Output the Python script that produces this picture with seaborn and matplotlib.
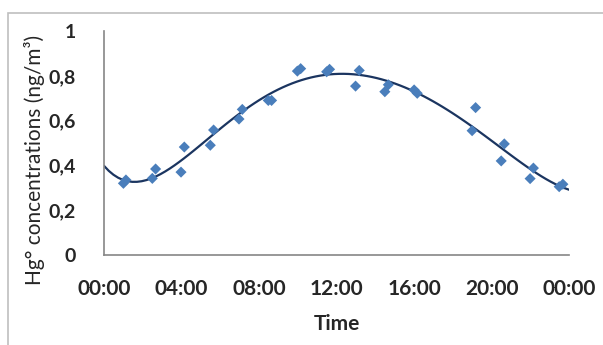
import matplotlib
matplotlib.use("Agg")
import matplotlib.pyplot as plt
import matplotlib.patches as patches
import seaborn as sns
import pandas as pd

# Hg° measurements (hour of day, ng/m3)
hours = [1.00, 1.13, 2.49, 2.66, 3.97, 4.14, 5.48, 5.65, 6.96, 7.13,
         8.47, 8.64, 9.97, 10.14, 11.48, 11.63, 12.97, 13.16, 14.48, 14.66,
         15.99, 16.15, 18.98, 19.16, 20.48, 20.64, 21.97, 22.14, 23.47, 23.66]
conc = [0.320, 0.335, 0.342, 0.384, 0.370, 0.482, 0.490, 0.558, 0.607, 0.650,
        0.690, 0.690, 0.821, 0.832, 0.818, 0.829, 0.754, 0.824, 0.729, 0.760,
        0.737, 0.722, 0.555, 0.658, 0.420, 0.496, 0.341, 0.388, 0.305, 0.316]

tick_hours = [0, 4, 8, 12, 16, 20, 24]
tick_labels = ["00:00", "04:00", "08:00", "12:00", "16:00", "20:00", "00:00"]
y_ticks = [0, 0.2, 0.4, 0.6, 0.8, 1.0]
y_labels = ["0", "0,2", "0,4", "0,6", "0,8", "1"]

df = pd.DataFrame({"hour": hours, "conc": conc})

sns.set_style("white")
plt.rcParams["font.family"] = ["Lato", "DejaVu Sans"]

fig = plt.figure(figsize=(6.03, 3.45), dpi=100)
ax = fig.add_axes([0.1725, 0.2609, 0.9444 - 0.1725, 0.9101 - 0.2609])
ax.set_xlim(0, 24)
ax.set_ylim(0, 1)

# polynomial trendline (6th order)
sns.regplot(data=df, x="hour", y="conc", order=6, ci=None, truncate=False,
            scatter=False, ax=ax, line_kws={"color": "#1b3560", "lw": 1.6})
sns.scatterplot(data=df, x="hour", y="conc", marker="D", s=32, color="#4a7ebb",
                edgecolor="none", ax=ax, zorder=3)

ax.set_xlim(0, 24)
ax.set_ylim(0, 1)
ax.set_xticks(tick_hours)
ax.set_xticklabels(tick_labels, fontsize=15, fontweight="bold")
ax.set_yticks(y_ticks)
ax.set_yticklabels(y_labels, fontsize=14, fontweight="bold")
ax.tick_params(axis="both", direction="out", length=5, width=1.2, color="#868686")
ax.tick_params(axis="x", pad=12)
ax.tick_params(axis="y", pad=15)

for side in ["top", "right"]:
    ax.spines[side].set_visible(False)
for side in ["left", "bottom"]:
    ax.spines[side].set_color("#868686")
    ax.spines[side].set_linewidth(1.2)

ax.set_xlabel("Time", fontsize=15, fontweight="bold", labelpad=11)
ax.set_ylabel("Hg° concentrations (ng/m³)", fontsize=15)
ax.yaxis.set_label_coords(-0.127, 0.424)

# outer chart frame
fig.add_artist(patches.Rectangle((8 / 603, -0.1), 1.0, 1 - 13 / 345 + 0.1,
                                 transform=fig.transFigure, fill=False,
                                 edgecolor="#bfbfbf", lw=1.2))

fig.savefig("out.png", dpi=100)
